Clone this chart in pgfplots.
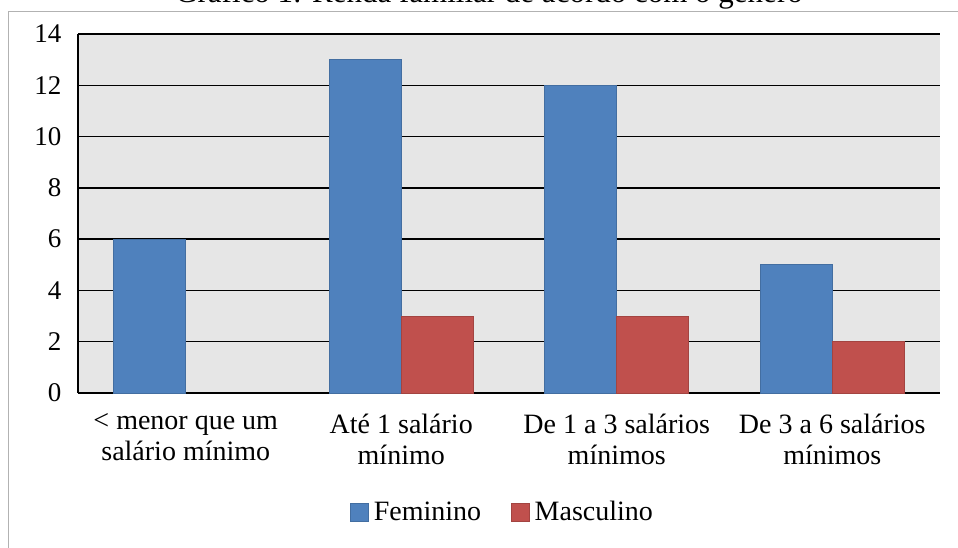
\documentclass[border=0pt]{standalone}
\usepackage{pgfplots}
\pgfplotsset{compat=1.18}
\usepackage{fontspec}
\setmainfont{Liberation Serif}
\definecolor{fem}{RGB}{79,129,189}
\definecolor{masc}{RGB}{192,80,77}
\definecolor{bg}{RGB}{230,230,230}
\pgfplotsset{
  /pgfplots/ybar legend/.style={
    /pgfplots/legend image code/.code={%
      \fill[##1] (0pt,-9pt) rectangle (18pt,9pt);},
  },
}
\begin{document}
\begin{tikzpicture}
\useasboundingbox (0pt,0pt) rectangle (958pt,547pt);
\clip (0pt,0pt) rectangle (958pt,547pt);
\draw[black!30, line width=1.2pt] (8.5pt,-20pt) rectangle (990pt,535.5pt);
\node[anchor=base, font=\fontsize{31}{36}\selectfont, inner sep=0pt] at (489pt,544pt) {Gráfico 1: Renda familiar de acordo com o gênero};
\begin{axis}[
  at={(78pt,154pt)}, anchor=south west, scale only axis,
  width=862pt, height=359pt,
  xmin=-0.5, xmax=3.5, ymin=0, ymax=14,
  ytick={0,2,...,14},
  xtick={0,1,2,3},
  xticklabels={{< menor que um\\salário mínimo},{Até 1 salário\\mínimo},{De 1 a 3 salários\\mínimos},{De 3 a 6 salários\\mínimos}},
  ybar=0pt, bar width=72pt,
  axis lines*=left,
  axis background/.style={fill=bg},
  ymajorgrids,
  grid style={black, line width=1.3pt},
  axis line style={black, line width=1.3pt},
  major tick length=0pt,
  /pgf/number format/assume math mode=true,
  yticklabel style={font=\fontsize{27}{33}\selectfont, xshift=-13pt},
  xticklabel style={align=center, font=\fontsize{28}{31}\selectfont, yshift=-17pt},
  legend columns=2,
  legend style={at={(0.4925,-0.331)}, anchor=center, draw=none, fill=none,
    font=\fontsize{28}{33}\selectfont,
    /tikz/every even column/.append style={column sep=28pt},
    /tikz/every odd column/.append style={column sep=3pt}},
]
\addplot[fill=fem, draw=fem!85!black, line width=0.6pt] coordinates {(0,6) (1,13) (2,12) (3,5)};
\addplot[fill=masc, draw=masc!85!black, line width=0.6pt] coordinates {(1,3) (2,3) (3,2)};
\legend{Feminino, Masculino}
\end{axis}
\end{tikzpicture}
\end{document}
